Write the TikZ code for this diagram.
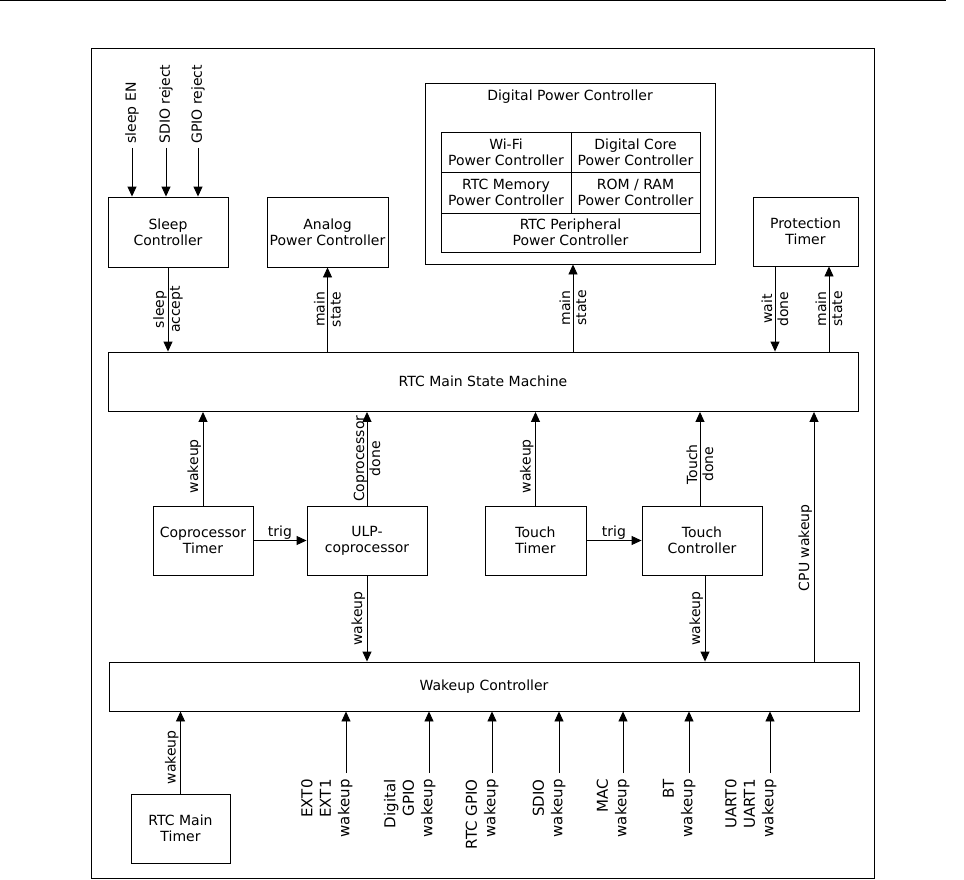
\documentclass[tikz,border=0pt]{standalone}
\usepackage{fontspec}
\setmainfont{DejaVu Sans}
\usetikzlibrary{arrows.meta}

\begin{document}
\begin{tikzpicture}[x=1pt,y=-1pt,
    every node/.style={font=\fontsize{14}{16}\selectfont},
    blk/.style={draw, line width=0.9pt, align=center, inner sep=0pt},
    arr/.style={line width=0.9pt, -{Triangle[length=10pt,width=9pt]}},
    inlabel/.style={rotate=90, anchor=west, inner sep=4pt},
    sidelabel/.style={rotate=90, anchor=south, inner sep=1.5pt},
    pairlabel/.style={rotate=90, align=center, inner sep=0pt},
    botlabel/.style={xshift=7pt, yshift=-6pt, rotate=90, anchor=south east,
      align=right, inner sep=0pt, font=\fontsize{15}{18.5}\selectfont}]
  \useasboundingbox (0,0) rectangle (964,880);
  \draw[line width=1.2pt] (0,0.6) -- (946,0.6);
  \draw[line width=1pt] (91,49) rectangle (874,878);

  % upper row
  \node[blk, minimum width=120pt, minimum height=70pt] (sleep) at (168,232) {Sleep\\Controller};
  \node[blk, minimum width=121pt, minimum height=70pt] (analog) at (327.5,232) {Analog\\Power Controller};
  \node[blk, minimum width=290pt, minimum height=181pt] (dpc) at (570,173.5) {};
  \node (dpctitle) at (570,97) {Digital Power Controller};
  \node[blk, minimum width=130pt, minimum height=40.5pt] (wifi) at (506,152.25) {Wi-Fi\\Power Controller};
  \node[blk, minimum width=129pt, minimum height=40.5pt] (dcore) at (635.5,152.25) {Digital Core\\Power Controller};
  \node[blk, minimum width=130pt, minimum height=40.5pt] (rtcmem) at (506,192.75) {RTC Memory\\Power Controller};
  \node[blk, minimum width=129pt, minimum height=40.5pt] (romram) at (635.5,192.75) {ROM / RAM\\Power Controller};
  \node[blk, minimum width=259pt, minimum height=39pt] (rtcper) at (570.5,232.5) {RTC Peripheral\\Power Controller};
  \node[blk, minimum width=105pt, minimum height=69pt] (prot) at (805.5,231.5) {Protection\\Timer};

  % state machine and wakeup
  \node[blk, minimum width=750pt, minimum height=59.5pt] (rtc) at (483,381.75) {RTC Main State Machine};
  \node[blk, minimum width=100pt, minimum height=69pt] (coptimer) at (203,540.5) {Coprocessor\\Timer};
  \node[blk, minimum width=120pt, minimum height=69pt] (ulp) at (367,540.5) {ULP-\\coprocessor};
  \node[blk, minimum width=101pt, minimum height=69pt] (ttimer) at (535.5,540.5) {Touch\\Timer};
  \node[blk, minimum width=120pt, minimum height=69pt] (tctl) at (702,540.5) {Touch\\Controller};
  \node[blk, minimum width=750pt, minimum height=49pt] (wake) at (484,686.5) {Wakeup Controller};
  \node[blk, minimum width=99pt, minimum height=69pt] (rtctimer) at (180.5,828.5) {RTC Main\\Timer};

  \coordinate (xdpc) at (573,0);
  \coordinate (xwait) at (775,0);
  \coordinate (xprot) at (829,0);
  \coordinate (xtdone) at (700,0);
  \coordinate (xtwake) at (705,0);
  \coordinate (xcpu) at (814,0);

  % inputs of the sleep controller
  \foreach \x/\txt [count=\i] in {132/sleep EN, 166/SDIO reject, 198/GPIO reject} {
    \coordinate (in\i) at (\x,148);
    \draw[arr] (in\i) node[inlabel] {\txt} -- (sleep.north -| in\i);
  }

  \draw[arr] (sleep.south) -- node[pairlabel] {sleep\\accept} (rtc.north -| sleep.south);
  \draw[arr] (rtc.north -| analog.south) -- node[pairlabel] {main\\state} (analog.south);
  \draw[arr] (rtc.north -| xdpc) -- node[pairlabel] {main\\state} (dpc.south -| xdpc);
  \draw[arr] (prot.south -| xwait) -- node[pairlabel] {wait\\done} (rtc.north -| xwait);
  \draw[arr] (rtc.north -| xprot) -- node[pairlabel] {main\\state} (prot.south -| xprot);

  \draw[arr] (coptimer.north) -- node[sidelabel, pos=0.42] {wakeup} (rtc.south -| coptimer.north);
  \draw[arr] (ulp.north) -- node[pairlabel] {Coprocessor\\done} (rtc.south -| ulp.north);
  \draw[arr] (ttimer.north) -- node[sidelabel, pos=0.42] {wakeup} (rtc.south -| ttimer.north);
  \draw[arr] (tctl.north -| xtdone) -- node[pairlabel, pos=0.44] {Touch\\done} (rtc.south -| xtdone);
  \draw[arr] (coptimer) -- node[above, inner sep=0.5pt] {trig} (ulp);
  \draw[arr] (ttimer) -- node[above, inner sep=0.5pt] {trig} (tctl);

  \draw[arr] (ulp.south) -- node[sidelabel] {wakeup} (wake.north -| ulp.south);
  \draw[arr] (tctl.south -| xtwake) -- node[sidelabel] {wakeup} (wake.north -| xtwake);
  \draw[arr] (wake.north -| xcpu) -- node[sidelabel, pos=0.456] {CPU wakeup} (rtc.south -| xcpu);

  % wakeup sources
  \draw[arr] (rtctimer.north) -- node[sidelabel, pos=0.44] {wakeup} (wake.south -| rtctimer.north);
  \foreach \x/\txt [count=\i] in {346/{EXT0\\EXT1\\wakeup}, 429/{Digital\\GPIO\\wakeup},
      492/{RTC GPIO\\wakeup}, 559/{SDIO\\wakeup}, 623/{MAC\\wakeup}, 689/{BT\\wakeup},
      770/{UART0\\UART1\\wakeup}} {
    \coordinate (src\i) at (\x,773);
    \draw[arr] (src\i) node[botlabel] {\txt} -- (wake.south -| src\i);
  }
\end{tikzpicture}
\end{document}
